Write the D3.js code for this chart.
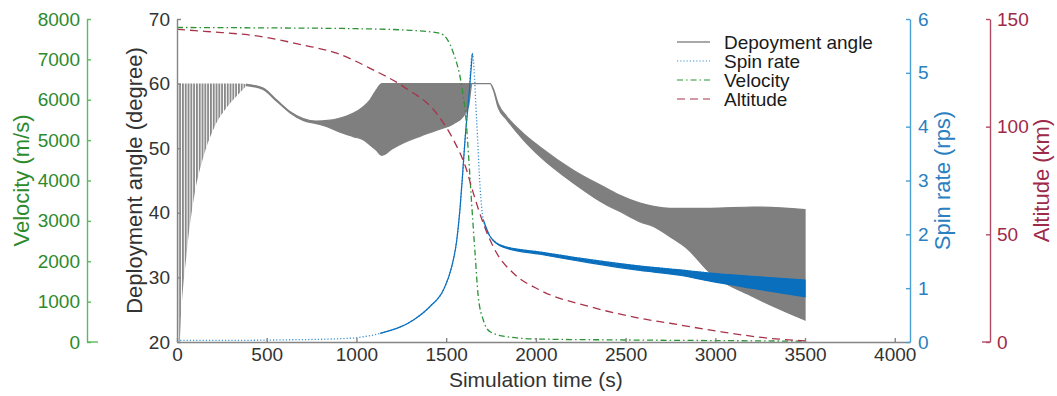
<!DOCTYPE html>
<html>
<head>
<meta charset="utf-8">
<script src="https://cdn.jsdelivr.net/npm/d3@7"></script>
<style>
  body { margin: 0; background: #fff; }
  svg { display: block; font-family: "Liberation Sans", Arial, Helvetica, sans-serif; }
</style>
</head>
<body>
<div id="chart"></div>
<script>
// Tick values for each axis
const timeTicks = [0, 500, 1000, 1500, 2000, 2500, 3000, 3500, 4000];
const angleTicks = [20, 30, 40, 50, 60, 70];
const velocityTicks = [0, 1000, 2000, 3000, 4000, 5000, 6000, 7000, 8000];
const spinTicks = [0, 1, 2, 3, 4, 5, 6];
const altitudeTicks = [0, 50, 100, 150];

// Deployment angle oscillates fast, so it is kept as an upper / lower envelope (degree)
const angleTime = [0, 15, 20, 57, 94, 150, 206, 280, 354, 388, 480, 554, 629, 703, 777, 840, 899, 981, 1037, 1076, 1110, 1142, 1200, 1261, 1350, 1448, 1541, 1597, 1625, 1645, 1700, 1745, 1763, 1790, 1838, 1930, 2023, 2209, 2394, 2469, 2581, 2655, 2748, 2841, 2971, 3211, 3500];
const angleHigh = [60, 60, 60, 60, 60, 60, 60, 60, 60, 59.9, 59.3, 57.5, 55.7, 54.6, 54.2, 54.3, 54.6, 55.4, 56.4, 57.5, 59.0, 60, 60, 60, 60, 60, 60, 60, 60, 60, 60, 60, 59.2, 56.9, 54.9, 52.3, 50.2, 46.6, 43.8, 42.7, 41.5, 41.0, 40.7, 40.7, 40.7, 40.9, 40.5];
const angleLow = [20, 20, 22.6, 34.5, 42.2, 48.9, 53.1, 56.4, 58.7, 59.7, 59.1, 57.3, 55.5, 54.3, 53.8, 53.3, 52.6, 51.8, 51.3, 50.5, 49.7, 48.9, 49.9, 50.8, 51.8, 52.8, 53.8, 55.0, 56.5, 60, 60, 60, 59.0, 56.3, 54.4, 51.3, 48.7, 44.6, 41.2, 40.2, 38.6, 37.9, 36.3, 34.5, 30.7, 27.0, 23.4];

// Spin rate (rps), upper / lower envelope
const spinTime = [0, 300, 600, 900, 1000, 1132, 1318, 1410, 1485, 1531, 1559, 1578, 1592, 1605, 1625, 1646, 1670, 1689, 1707, 1745, 1818, 2023, 2300, 2581, 2800, 2971, 3200, 3500];
const spinHigh = [0.03, 0.03, 0.04, 0.06, 0.08, 0.16, 0.41, 0.66, 0.97, 1.40, 1.89, 2.51, 3.13, 3.75, 4.50, 5.36, 4.12, 2.88, 2.27, 1.96, 1.78, 1.67, 1.53, 1.41, 1.34, 1.28, 1.22, 1.15];
const spinLow = [0.03, 0.03, 0.04, 0.06, 0.08, 0.16, 0.41, 0.66, 0.97, 1.40, 1.89, 2.51, 3.13, 3.75, 4.50, 5.36, 4.12, 2.88, 2.27, 1.96, 1.76, 1.63, 1.47, 1.33, 1.24, 1.13, 1.00, 0.84];

// Velocity (m/s)
const velocityTime = [0, 500, 1000, 1300, 1466, 1541, 1587, 1611, 1624, 1642, 1661, 1679, 1707, 1745, 1838, 2000, 2500, 3000, 3500];
const velocity = [7790, 7780, 7760, 7720, 7645, 7150, 6325, 5500, 4675, 3435, 2200, 1120, 545, 255, 130, 75, 50, 35, 20];

// Altitude (km)
const altitudeTime = [0, 100, 250, 400, 704, 890, 1076, 1262, 1448, 1541, 1608, 1652, 1707, 1782, 1875, 2023, 2302, 2581, 2748, 3027, 3305, 3500];
const altitude = [145.2, 144.6, 143.7, 142.6, 137.9, 134.1, 127.1, 118.6, 106.0, 93.8, 81.4, 69.0, 55.1, 41.2, 31.9, 24.1, 16.4, 11.0, 8.7, 4.8, 1.7, 0.5];

const legendNames = ['Depoyment angle', 'Spin rate', 'Velocity', 'Altitude'];

const svgWidth = 1057, svgHeight = 396;
const plot = { left: 177, right: 910, top: 19, bottom: 342 };

const colors = {
  angle: '#7f7f7f', angleAxis: '#858585', angleText: '#333333',
  spin: '#0a6fbd', spinLight: '#3b92d2', spinAxis: '#4a9fd6', spinText: '#2a80c0',
  velocity: '#2c9436', velocityAxis: '#5cb85c', velocityText: '#2d8a2d',
  altitude: '#a8324a', altitudeAxis: '#b24a66', altitudeText: '#9e2a4a'
};

const svg = d3.select('#chart').append('svg')
  .attr('width', svgWidth)
  .attr('height', svgHeight);

// hatch used for the first, still resolvable oscillations
svg.append('defs').append('pattern')
  .attr('id', 'hatch')
  .attr('patternUnits', 'userSpaceOnUse')
  .attr('width', 2.8).attr('height', 10)
  .append('rect')
  .attr('width', 1.8).attr('height', 10)
  .attr('fill', '#888888');

// Scales
const x = d3.scaleLinear().domain([0, 4085]).range([plot.left, plot.right]);
const yAngle = d3.scaleLinear().domain([20, 70]).range([plot.bottom, plot.top]);
const yVel = d3.scaleLinear().domain([0, 8000]).range([plot.bottom, plot.top]);
const ySpin = d3.scaleLinear().domain([0, 6]).range([plot.bottom, plot.top]);
const yAlt = d3.scaleLinear().domain([0, 150]).range([plot.bottom, plot.top]);

// ---- Deployment angle band ----
const angleRows = angleTime.map((t, i) => ({ t: t, hi: angleHigh[i], lo: angleLow[i] }));
const angleArea = d3.area()
  .x(d => x(d.t))
  .y0(d => yAngle(d.lo))
  .y1(d => yAngle(d.hi))
  .curve(d3.curveMonotoneX);

svg.append('path')
  .datum(angleRows.filter(d => d.t <= 388))
  .attr('d', angleArea)
  .attr('fill', 'url(#hatch)');

svg.append('path')
  .datum(angleRows.filter(d => d.t >= 388))
  .attr('d', angleArea)
  .attr('fill', colors.angle)
  .attr('stroke', colors.angle)
  .attr('stroke-width', 1.2);

// ---- Spin rate ----
const spinRows = spinTime.map((t, i) => ({ t: t, hi: spinHigh[i], lo: spinLow[i] }));
svg.append('path')
  .datum(spinRows)
  .attr('d', d3.line().x(d => x(d.t)).y(d => ySpin(d.hi)).curve(d3.curveMonotoneX))
  .attr('fill', 'none')
  .attr('stroke', colors.spinLight)
  .attr('stroke-width', 1.3)
  .attr('stroke-dasharray', '1.2,2');

svg.append('path')
  .datum(spinRows)
  .attr('d', d3.area()
    .defined(d => (d.t >= 1100 && d.t <= 1646) || d.t >= 1707)
    .x(d => x(d.t))
    .y0(d => ySpin(d.lo))
    .y1(d => ySpin(d.hi))
    .curve(d3.curveMonotoneX))
  .attr('fill', colors.spin)
  .attr('stroke', colors.spin)
  .attr('stroke-width', 1.2);

// ---- Velocity ----
svg.append('path')
  .datum(velocityTime.map((t, i) => [t, velocity[i]]))
  .attr('d', d3.line().x(d => x(d[0])).y(d => yVel(d[1])).curve(d3.curveMonotoneX))
  .attr('fill', 'none')
  .attr('stroke', colors.velocity)
  .attr('stroke-width', 1.3)
  .attr('stroke-dasharray', '6,3,1.5,3');

// ---- Altitude ----
svg.append('path')
  .datum(altitudeTime.map((t, i) => [t, altitude[i]]))
  .attr('d', d3.line().x(d => x(d[0])).y(d => yAlt(d[1])).curve(d3.curveMonotoneX))
  .attr('fill', 'none')
  .attr('stroke', colors.altitude)
  .attr('stroke-width', 1.3)
  .attr('stroke-dasharray', '8,5');

// ---- Axes ----
function styleAxis(g, lineColor, textColor) {
  g.selectAll('path, line').attr('stroke', lineColor).attr('stroke-width', 1.4);
  g.selectAll('text').attr('fill', textColor).style('font-size', '19px');
}

// time axis
svg.append('g')
  .attr('transform', `translate(0,${plot.bottom})`)
  .call(d3.axisBottom(x).tickValues(timeTicks).tickFormat(d3.format('d')).tickSize(-4).tickSizeOuter(0).tickPadding(6))
  .call(g => styleAxis(g, colors.angleAxis, colors.angleText));

// deployment angle axis
svg.append('g')
  .attr('transform', `translate(${plot.left},0)`)
  .call(d3.axisLeft(yAngle).tickValues(angleTicks).tickSize(-4).tickSizeOuter(0).tickPadding(7))
  .call(g => styleAxis(g, colors.angleAxis, colors.angleText));

// velocity axis (offset to the far left)
const velX = 87;
svg.append('g')
  .attr('transform', `translate(${velX},0)`)
  .call(d3.axisLeft(yVel).tickValues(velocityTicks).tickFormat(d3.format('d')).tickSize(-4).tickSizeOuter(0).tickPadding(7))
  .call(g => styleAxis(g, colors.velocityAxis, colors.velocityText));
svg.append('line')
  .attr('x1', velX).attr('x2', velX + 11)
  .attr('y1', plot.bottom).attr('y2', plot.bottom)
  .attr('stroke', colors.velocityAxis).attr('stroke-width', 1.4);

// spin rate axis
svg.append('g')
  .attr('transform', `translate(${plot.right},0)`)
  .call(d3.axisRight(ySpin).tickValues(spinTicks).tickFormat(d3.format('d')).tickSize(-4).tickSizeOuter(0).tickPadding(8))
  .call(g => styleAxis(g, colors.spinAxis, colors.spinText));

// altitude axis (offset to the far right)
const altX = 990;
svg.append('g')
  .attr('transform', `translate(${altX},0)`)
  .call(d3.axisRight(yAlt).tickValues(altitudeTicks).tickFormat(d3.format('d')).tickSize(-4).tickSizeOuter(0).tickPadding(7))
  .call(g => styleAxis(g, colors.altitudeAxis, colors.altitudeText));
svg.append('line')
  .attr('x1', altX - 8).attr('x2', altX)
  .attr('y1', plot.bottom).attr('y2', plot.bottom)
  .attr('stroke', colors.altitudeAxis).attr('stroke-width', 1.4);

// ---- Axis titles ----
const midY = (plot.top + plot.bottom) / 2;
function yTitle(cx, text, color) {
  svg.append('text')
    .attr('transform', `translate(${cx},${midY}) rotate(-90)`)
    .attr('text-anchor', 'middle')
    .attr('dy', '0.35em')
    .style('font-size', '22px')
    .attr('fill', color)
    .text(text);
}
yTitle(21, 'Velocity (m/s)', colors.velocityText);
yTitle(134, 'Deployment angle (degree)', colors.angleText);
yTitle(942, 'Spin rate (rps)', colors.spinText);
yTitle(1041, 'Altitude (km)', colors.altitudeText);

svg.append('text')
  .attr('x', (x(0) + x(4000)) / 2)
  .attr('y', 387)
  .attr('text-anchor', 'middle')
  .style('font-size', '21px')
  .attr('fill', colors.angleText)
  .text('Simulation time (s)');

// ---- Legend ----
const legendStyles = [
  { color: '#555555', dash: null },
  { color: colors.spinLight, dash: '1.2,2' },
  { color: colors.velocity, dash: '6,3,1.5,3' },
  { color: colors.altitude, dash: '8,5' }
];
const legend = svg.append('g').attr('transform', 'translate(677,42)');
legendNames.forEach((name, i) => {
  const row = legend.append('g').attr('transform', `translate(0,${i * 19})`);
  row.append('line')
    .attr('x1', 0).attr('x2', 33)
    .attr('stroke', legendStyles[i].color)
    .attr('stroke-width', 1.2)
    .attr('stroke-dasharray', legendStyles[i].dash);
  row.append('text')
    .attr('x', 47)
    .attr('dy', '0.35em')
    .style('font-size', '19px')
    .attr('fill', '#1a1a1a')
    .text(name);
});
</script>
</body>
</html>
